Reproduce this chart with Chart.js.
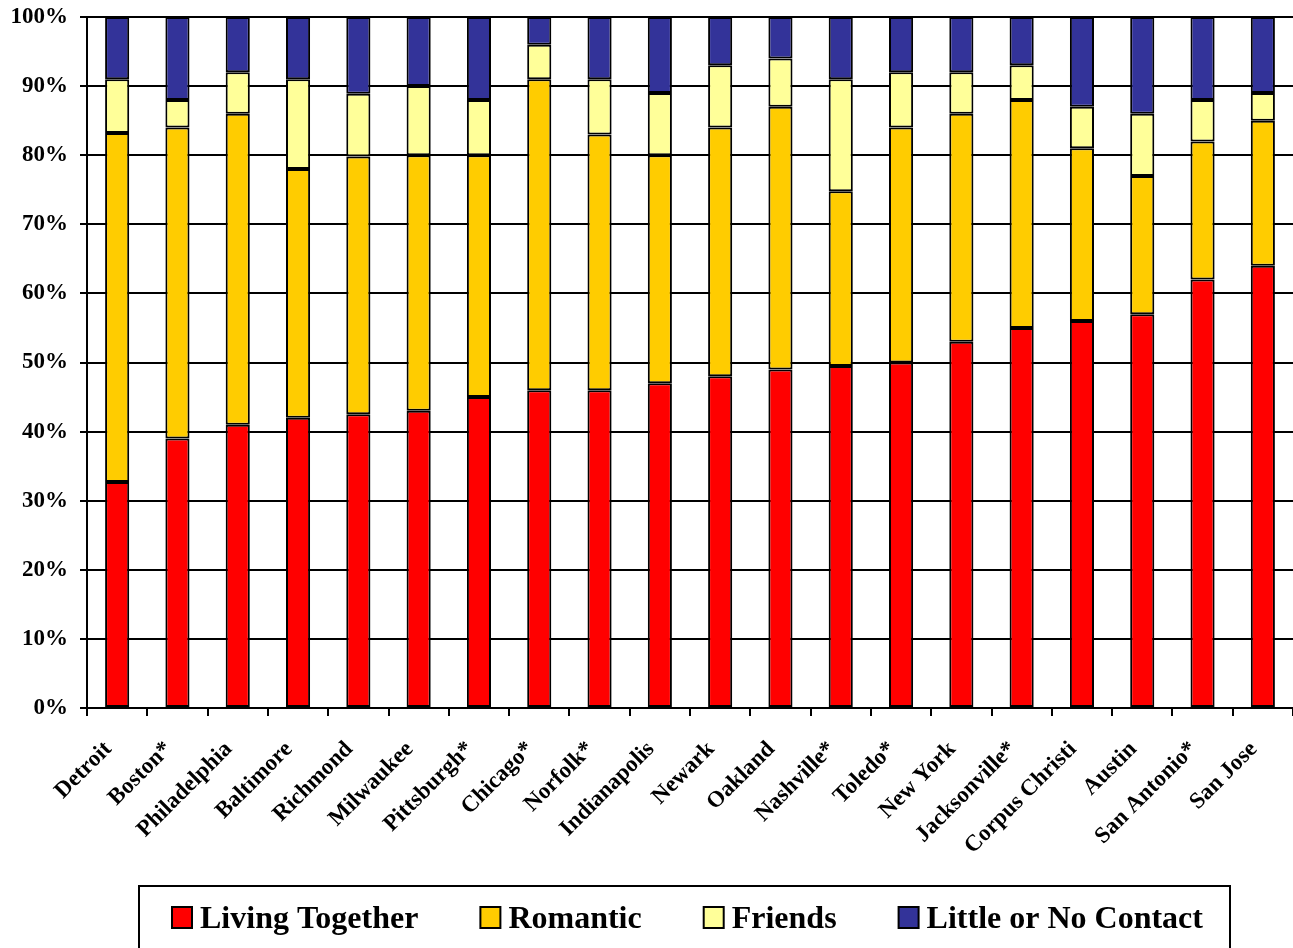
<!DOCTYPE html>
<html>
<head>
<meta charset="utf-8">
<script src="https://cdn.jsdelivr.net/npm/chart.js@4/dist/chart.umd.min.js"></script>
<style>
html,body{margin:0;padding:0;background:#fff;}
#wrap{width:1293px;height:948px;position:relative;}
</style>
</head>
<body>
<div id="wrap"><canvas id="c" width="1293" height="948"></canvas></div>
<script>
const cities = ["Detroit","Boston*","Philadelphia","Baltimore","Richmond","Milwaukee","Pittsburgh*","Chicago*","Norfolk*","Indianapolis","Newark","Oakland","Nashville*","Toledo*","New York","Jacksonville*","Corpus Christi","Austin","San Antonio*","San Jose"];
const livingTogether = [32.7,39,41,42,42.5,43,45,46,46,47,48,49,49.5,50,53,55,56,57,62,64];
const romantic       = [50.5,45,45,36,37.3,37,35,45,37,33,36,38,25.3,34,33,33,25,20,20,21];
const friends        = [7.8,4,6,13,9.1,10,8,5,8,9,9,7,16.2,8,6,5,6,9,6,4];
const littleContact  = [9,12,8,9,11.1,10,12,4,9,11,7,6,9,8,8,7,13,14,12,11];
const seriesNames = ["Living Together","Romantic","Friends","Little or No Contact"];
const yTicks = [0,10,20,30,40,50,60,70,80,90,100];

const colors = ["#FF0000","#FFCC00","#FFFF99","#333399"];
const FONT = '"Liberation Serif","Times New Roman",serif';

const legendPlugin = {
  id: 'boxLegend',
  afterDraw(chart) {
    const ctx = chart.ctx;
    ctx.save();
    ctx.lineWidth = 2;
    ctx.strokeStyle = '#000';
    ctx.strokeRect(139, 886, 1091, 80);
    ctx.font = 'bold 32px ' + FONT;
    ctx.textBaseline = 'alphabetic';
    let x = 172;
    chart.data.datasets.forEach((ds) => {
      ctx.fillStyle = ds.backgroundColor;
      ctx.fillRect(x, 907, 20, 21);
      ctx.lineWidth = 2;
      ctx.strokeStyle = '#000';
      ctx.strokeRect(x, 907, 20, 21);
      ctx.fillStyle = '#000';
      ctx.fillText(ds.label, x + 28, 928);
      x += 28 + ctx.measureText(ds.label).width + 62;
    });
    ctx.restore();
  }
};

const data = {
  labels: cities,
  datasets: [livingTogether, romantic, friends, littleContact].map((vals, i) => ({
    label: seriesNames[i],
    data: vals,
    backgroundColor: colors[i],
    borderColor: '#000',
    borderWidth: 2,
    borderSkipped: false,
    barPercentage: 0.4,
    categoryPercentage: 1.0
  }))
};

new Chart(document.getElementById('c'), {
  type: 'bar',
  data,
  plugins: [legendPlugin],
  options: {
    responsive: false,
    animation: false,
    devicePixelRatio: 1,
    layout: { padding: { top: 17, right: 0, bottom: 80, left: 0 } },
    plugins: { legend: { display: false }, tooltip: { enabled: false } },
    scales: {
      x: {
        stacked: true,
        offset: true,
        grid: { offset: true, drawOnChartArea: false, drawTicks: true, tickLength: 8, color: '#000', lineWidth: 2 },
        border: { color: '#000', width: 2 },
        ticks: { color: '#000', font: { family: FONT, weight: 'bold', size: 23 }, maxRotation: 45, minRotation: 45, autoSkip: false, padding: 20, labelOffset: -9 },
        afterFit(scale) { scale.height = 160; scale.paddingRight = 0; scale.paddingLeft = 0; }
      },
      y: {
        stacked: true,
        min: 0, max: 100,
        afterBuildTicks(scale) { scale.ticks = yTicks.map(v => ({ value: v })); },
        grid: { color: '#000', lineWidth: 2, tickLength: 7, drawTicks: true },
        border: { color: '#000', width: 2 },
        ticks: { color: '#000', font: { family: FONT, weight: 'bold', size: 23 }, padding: 12, callback: v => v + '%' },
        afterFit(scale) { scale.width = 87; scale.paddingTop = 0; scale.paddingBottom = 0; }
      }
    }
  }
});
</script>
</body>
</html>
